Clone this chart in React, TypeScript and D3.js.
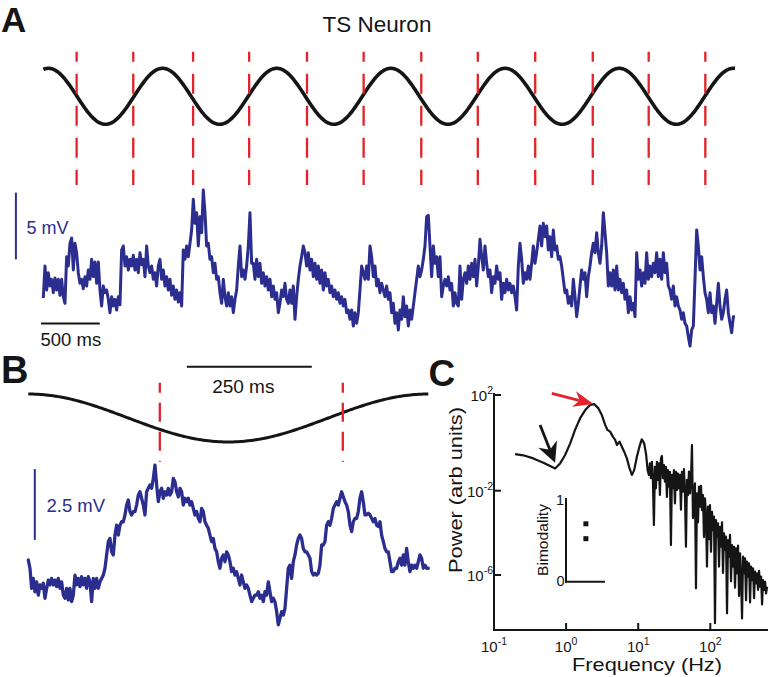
import React from 'react';
import * as d3 from 'd3';

const FONT = '"Liberation Sans", Arial, Helvetica, sans-serif';
const RED = '#e3222b';
const BLUE = '#2b2e8e';
const BLACK = '#151515';

// ---------------- Panel A : membrane potential trace (mV, relative) ----------------
const SAMPLE_MS_A = 14.6;
const traceA_mV = [
  3.9, 6.3, 4.5, 5.8, 4.8, 5.3, 4.3, 5.4, 4.5, 5.3, 4.1, 5.3, 4.0, 3.5,
  7.0, 6.3, 8.0, 8.4, 6.0, 8.0, 7.3, 5.8, 5.0, 5.3, 4.6, 5.5, 4.8, 6.0, 5.3, 6.8, 5.5, 6.6, 5.0, 6.6,
  4.5, 3.3, 4.8, 4.3, 4.5, 3.8, 2.8, 4.0, 3.3, 3.8, 3.0, 4.0, 3.4, 7.5, 7.8, 6.3, 7.0, 6.0, 6.8, 6.3,
  7.1, 6.0, 6.8, 5.8, 7.3, 6.4, 6.8, 5.5, 7.8, 6.3, 5.8, 6.3, 5.3, 5.8, 4.8, 6.3, 6.8, 5.3, 6.0, 4.8,
  5.5, 4.5, 5.3, 4.1, 4.8, 3.8, 4.5, 3.6, 4.3, 3.3, 7.5, 6.8, 7.8, 7.0, 8.0, 9.0, 11.3, 9.5, 10.3, 7.8,
  10.0, 8.8, 12.0, 10.3, 7.8, 8.0, 6.8, 7.0, 5.8, 6.5, 5.3, 5.5, 4.3, 3.5, 5.3, 4.0, 3.3, 4.3, 3.3, 4.0,
  2.8, 3.8, 4.5, 6.3, 7.8, 5.5, 6.0, 5.3, 6.3, 7.8, 10.3, 6.5, 6.5, 5.3, 6.8, 5.5, 6.5, 5.0, 5.8, 4.8,
  5.5, 4.5, 5.3, 4.0, 4.8, 3.8, 4.3, 2.8, 3.5, 4.5, 4.0, 5.0, 3.8, 3.5, 4.5, 3.5, 4.8, 2.3, 4.0, 5.3,
  6.3, 7.0, 7.8, 7.3, 6.3, 7.3, 6.0, 6.8, 5.5, 6.5, 5.3, 6.3, 5.0, 6.0, 4.5, 5.8, 4.8, 5.3, 4.3, 4.8,
  4.0, 4.5, 3.8, 4.3, 3.5, 4.0, 3.3, 3.8, 2.8, 3.0, 2.3, 3.0, 1.8, 2.8, 2.0, 2.8, 4.5, 6.3, 5.8, 5.3,
  6.3, 5.3, 7.8, 7.0, 5.5, 6.3, 4.8, 5.3, 4.3, 5.0, 4.5, 4.0, 4.8, 3.8, 4.3,
  2.8, 3.5, 2.0, 2.8, 1.5, 3.0, 2.3, 4.0, 2.5, 3.3, 1.8, 3.0, 2.3, 3.3,
  4.3, 5.3, 6.3, 5.5, 6.0, 6.8, 7.8, 10.0, 10.1, 7.8, 5.5, 7.8, 6.5, 7.0, 5.5, 7.0, 4.0, 4.8, 5.3, 4.8,
  5.5, 4.5, 5.0, 3.3, 4.3, 3.5, 3.3, 6.3, 3.8, 5.3, 5.8, 5.0, 6.3, 5.3, 6.5, 5.5, 6.8, 4.8, 6.3, 8.3,
  7.0, 6.0, 7.8, 6.5, 5.5, 6.0, 4.3, 5.5, 5.0, 6.3, 5.3, 5.8, 3.8, 5.0, 4.3, 5.3, 4.5, 5.0, 4.3, 4.8,
  4.0, 3.0, 6.3, 8.0, 6.8, 5.0, 5.8, 5.3, 6.3, 5.3, 6.5, 7.8, 6.5, 7.3, 8.3, 9.3, 7.8, 9.5, 8.5, 9.3,
  7.5, 8.5, 7.0, 9.0, 7.5, 7.8, 6.8, 7.0, 6.3, 5.3, 4.3, 4.5, 3.5, 4.0, 3.3, 5.3, 4.0, 2.5, 3.5, 4.8,
  6.0, 5.3, 5.8, 4.0, 5.5, 6.3, 7.3, 8.0, 7.3, 8.8, 7.3, 6.5, 7.8, 10.3, 8.8, 7.3, 4.8, 5.8, 4.8, 6.0,
  4.5, 6.3, 4.5, 5.3, 4.3, 5.0, 3.8, 4.5, 2.8, 4.0, 3.0, 3.5, 2.5, 7.3, 5.3, 6.0, 4.8, 5.8, 5.0, 7.3,
  5.3, 6.3, 5.5, 6.5, 5.8, 7.3, 5.5, 6.8, 5.3, 7.3, 5.8, 6.5, 4.8, 4.5, 3.8, 4.8, 3.3, 4.0, 3.3, 3.0,
  2.3, 2.8, 2.0, 1.8, 1.0, 0.3, 1.5, 1.8, 5.3, 9.0, 7.8, 6.0, 7.0, 5.5, 4.3, 3.8, 2.8, 4.3, 2.8, 3.3,
  2.0, 3.5, 5.0, 3.3, 2.3, 2.8, 3.8, 4.5, 2.8, 2.0, 1.3, 2.5, 2.5,
];
const redLineTimesA_ms = [292, 788, 1312, 1803, 2310, 2806, 3311, 3806, 4309, 4813, 5303, 5799];
const STIM_PERIOD_A_MS = 1000;
const STIM_PEAK_A_MS = 45;

// ---------------- Panel B : cycle-aligned trace (mV, relative) ----------------
const SAMPLE_MS_B = 10 / 3;
const traceB_mV = [
  2.53, 2.24, 1.53, 1.88, 1.41, 1.76, 1.29, 1.65, 1.53, 1.71, 1.18, 1.53, 1.82, 1.65, 1.88, 1.65, 1.82, 1.59, 1.88, 1.53,
  1.76, 1.29, 1.18, 1.53, 1.12, 1.53, 1.06, 1.29, 2.00, 1.65, 1.88, 1.59, 1.94, 1.65, 1.88, 1.53, 1.94, 1.76, 1.06, 1.88,
  1.53, 1.88, 1.53, 1.76, 1.88, 2.00, 2.24, 2.71, 3.18, 3.29, 2.82, 2.71, 3.41, 3.76, 3.41, 3.76, 3.88, 3.88, 4.12, 4.47,
  4.65, 4.24, 4.12, 4.24, 4.24, 4.47, 4.82, 4.94, 4.71, 4.47, 4.12, 4.94, 5.06, 5.18, 5.06, 5.41, 5.88, 5.18, 4.59, 4.94,
  5.06, 4.71, 4.94, 4.82, 5.06, 4.82, 4.94, 5.41, 5.29, 4.94, 4.76, 5.06, 4.94, 4.47, 4.71, 4.59, 4.71, 4.47, 4.59, 4.35,
  4.12, 4.24, 4.00, 3.88, 4.35, 4.24, 3.88, 3.76, 3.65, 3.41, 3.18, 3.29, 2.94, 2.82, 2.47, 2.24, 2.59, 2.71, 2.47, 2.82,
  2.71, 2.47, 2.12, 2.24, 2.00, 2.12, 1.88, 1.65, 2.00, 1.76, 1.53, 1.65, 1.53, 1.29, 1.06, 1.18, 1.29, 1.29, 1.41, 1.18,
  1.29, 1.06, 1.41, 1.29, 1.76, 1.41, 1.06, 1.18, 1.06, 0.71, 0.24, 0.47, 0.71, 0.59, 0.82, 1.53, 2.24, 2.35, 1.88, 2.47,
  2.71, 3.06, 3.29, 3.41, 3.29, 2.94, 2.82, 2.82, 2.71, 2.59, 2.12, 2.00, 2.06, 2.00, 2.06, 2.35, 3.06, 3.06, 3.18, 3.76,
  3.88, 3.76, 4.00, 4.35, 4.47, 4.59, 4.47, 4.71, 4.94, 4.76, 4.59, 4.47, 4.24, 3.76, 3.53, 3.88, 4.00, 4.00, 4.24, 4.71,
  4.94, 4.59, 4.12, 4.12, 4.18, 4.12, 4.00, 3.88, 4.00, 3.76, 3.71, 3.88, 3.41, 3.18, 2.94, 2.82, 2.82, 2.47, 2.12, 2.12,
  2.24, 2.24, 2.47, 2.59, 2.35, 2.71, 2.35, 2.94, 2.47, 2.12, 2.35, 2.24, 2.35, 2.24, 2.47, 2.71, 2.59, 2.24, 2.35, 2.24, 2.24,
];
const redLineTimesB_ms = [263, 629];
const STIM_PERIOD_B_MS = 800;
const STIM_PEAK_B_MS = 0;

// ---------------- Panel C : power spectrum [frequency Hz, log10 power] ----------------
const spectrum: [number, number][] = [
  [0.196, -0.47], [0.255, -0.52], [0.351, -0.65], [0.484, -0.83], [0.6, -0.97], [0.703, -1.07],
  [0.826, -0.86], [0.969, -0.51], [1.14, -0.02], [1.33, 0.54], [1.56, 1.02], [1.84, 1.37],
  [2.15, 1.58], [2.45, 1.62], [2.81, 1.44], [3.13, 1.16], [3.48, 0.75], [3.75, 0.54],
  [4.08, 0.47], [4.45, 0.26], [4.79, 0.12], [5.06, -0.09], [5.51, 0.05], [5.93, -0.16],
  [6.39, -0.37], [6.96, -0.65], [7.59, -1.07], [8.17, -1.34], [8.8, -1.14], [9.58, -0.58],
  [10.4, -0.16], [11.2, 0.15], [12.1, -0.02], [12.9, -0.51], [13.5, -1.14],
  [14.07, -1.34], [14.53, -0.86], [15.0, -1.48], [15.49, -0.79], [15.99, -1.55], [16.51, -3.63],
  [17.05, -1.0], [17.6, -1.9], [18.17, -0.79], [18.76, -1.55], [19.37, -0.86], [20.0, -2.2],
  [20.65, -0.65], [21.32, -0.55], [22.01, -1.48], [22.73, -0.93], [23.47, -1.62], [24.23, -1.0],
  [25.02, -2.3], [25.83, -1.14], [26.67, -1.83], [27.54, -1.21], [28.43, -4.58], [29.36, -1.34],
  [30.31, -1.9], [31.3, -1.14], [32.31, -2.6], [33.36, -1.21], [34.45, -1.97], [35.57, -1.28],
  [36.72, -1.9], [37.92, -1.34], [39.15, -2.9], [40.42, -1.21], [41.73, -2.05], [43.09, -1.1],
  [44.49, -2.13], [45.94, -4.66], [47.43, -1.55], [48.97, -2.21], [50.56, -1.2], [52.21, -2.13],
  [53.9, -1.55], [55.66, -0.09], [57.46, -3.3], [59.33, -2.28], [61.26, -1.69], [63.25, -6.63],
  [65.3, -2.13], [67.43, -3.5], [69.62, -1.83], [71.88, -2.76], [74.22, -1.8], [76.63, -2.92],
  [79.12, -2.21], [81.69, -4.2], [84.35, -2.36], [87.09, -3.23], [89.92, -5.6], [92.84, -2.76],
  [95.86, -4.3], [98.97, -2.68], [102.2, -4.9], [105.5, -3.0], [108.9, -3.87], [112.5, -3.23],
  [116.1, -8.29], [119.9, -3.39], [123.8, -4.18], [127.8, -3.55], [132.0, -5.6], [136.3, -3.71],
  [140.7, -4.66], [145.3, -3.5], [150.0, -5.9], [154.9, -4.02], [159.9, -4.81], [165.1, -4.18],
  [170.5, -7.82], [176.0, -4.34], [181.7, -5.13], [187.6, -4.1], [193.7, -6.3], [200.0, -4.58],
  [206.5, -5.6], [213.2, -4.66], [220.2, -6.6], [227.3, -4.74], [234.7, -5.92], [242.3, -4.6],
  [250.2, -7.0], [258.3, -4.97], [266.7, -6.08], [275.4, -8.06], [284.3, -5.13], [293.6, -5.92],
  [303.1, -5.21], [313.0, -7.2], [323.1, -5.37], [333.6, -6.08], [344.5, -5.45], [355.7, -7.3],
  [367.2, -5.6], [379.2, -6.24], [391.5, -5.68], [404.2, -7.1], [417.4, -5.84], [430.9, -6.4],
  [444.9, -5.92], [459.4, -6.71], [474.3, -5.8], [489.7, -6.55], [505.7, -6.08], [522.1, -7.4],
  [539.1, -6.24], [556.6, -6.71], [574.7, -6.32], [593.4, -6.87], [612.7, -6.55],
];
const freqTickExps = [-1, 0, 1, 2];
const powerTickExps = [2, -2, -6];
const bimodality = [0.7, 0.52];
// annotation arrows: [freq Hz, log10 power] of the tip
const peakArrowTip: [number, number] = [2.39, 1.62];
const dipArrowTip: [number, number] = [0.703, -0.83];

// ---------------- scales ----------------
const durA = (traceA_mV.length - 1) * SAMPLE_MS_A;
const xA = d3.scaleLinear().domain([0, durA]).range([43.3, 735]);
const yA = d3.scaleLinear().domain([0, 12]).range([350, 190]);
const sA = d3.scaleLinear().domain([-1, 1]).range([124.3, 68.3]);

const durB = (traceB_mV.length - 1) * SAMPLE_MS_B;
const xB = d3.scaleLinear().domain([0, durB]).range([28.3, 428.3]);
const yB = d3.scaleLinear().domain([0, 6]).range([631.7, 461.7]);
const sB = d3.scaleLinear().domain([-1, 1]).range([442, 394]);

const xC = d3.scaleLog().domain([0.1, Math.pow(10, 2.8)]).range([494, 768]);
const yC = d3.scaleLinear().domain([2, -2, -6]).range([395, 490.7, 575]);
const insetX = d3.scaleLinear().domain([0, 1]).range([566, 605]);
const insetY = d3.scaleLinear().domain([0, 1]).range([581.7, 499]);

function stim(dur: number, period: number, peak: number) {
  const ts = d3.range(0, dur, 5).concat([dur]);
  return ts.map((t) => [t, Math.cos((2 * Math.PI * (t - peak)) / period)] as [number, number]);
}

const lineA = d3.line<number>().x((_, i) => xA(i * SAMPLE_MS_A)).y((v) => yA(v));
const lineB = d3.line<number>().x((_, i) => xB(i * SAMPLE_MS_B)).y((v) => yB(v));
const sineLineA = d3.line<[number, number]>().x((d) => xA(d[0])).y((d) => sA(d[1])).curve(d3.curveBasis);
const sineLineB = d3.line<[number, number]>().x((d) => xB(d[0])).y((d) => sB(d[1])).curve(d3.curveBasis);
const specLine = d3.line<[number, number]>().x((d) => xC(d[0])).y((d) => yC(d[1]));

function Arrow({ tip, dx, dy, color, headLen, half, width }: { tip: [number, number]; dx: number; dy: number; color: string; headLen: number; half: number; width: number }) {
  const tx = xC(tip[0]);
  const ty = yC(tip[1]);
  const x0 = tx + dx;
  const y0 = ty + dy;
  const len = Math.hypot(tx - x0, ty - y0);
  const ux = (tx - x0) / len;
  const uy = (ty - y0) / len;
  const nx = -uy;
  const ny = ux;
  const bx = tx - ux * headLen;
  const by = ty - uy * headLen;
  const mx = tx - ux * headLen * 0.7;
  const my = ty - uy * headLen * 0.7;
  const pts = [
    [tx, ty],
    [bx + nx * half, by + ny * half],
    [mx, my],
    [bx - nx * half, by - ny * half],
  ];
  return (
    <g>
      <line x1={x0} y1={y0} x2={mx} y2={my} stroke={color} strokeWidth={width} />
      <polygon points={pts.map((p) => p.join(',')).join(' ')} fill={color} />
    </g>
  );
}

function Pow10({ x, y, exp, anchor, size = 15 }: { x: number; y: number; exp: number; anchor: string; size?: number }) {
  return (
    <text x={x} y={y} textAnchor={anchor as any} fontSize={size} fill={BLACK}>
      10
      <tspan dy={-7} fontSize={size * 0.7}>{exp}</tspan>
    </text>
  );
}

export default function App() {
  const sineA = stim(durA, STIM_PERIOD_A_MS, STIM_PEAK_A_MS);
  const sineB = stim(durB, STIM_PERIOD_B_MS, STIM_PEAK_B_MS);
  const cAxisTop = yC(2.08);
  const cAxisBottom = yC(-8.61);
  const cLeft = xC(0.1);
  const cRight = xC(Math.pow(10, 2.8));
  return (
    <svg
      width={769}
      height={677}
      style={{ position: 'absolute', left: 0, top: 0, display: 'block', background: '#fff' }}
      fontFamily={FONT}
    >
      <rect width={769} height={677} fill="#fff" />

      {/* ---------- Panel A ---------- */}
      <text x={1} y={31.5} fontSize={35} fontWeight="bold" fill={BLACK}>A</text>
      <text x={377} y={31.5} fontSize={22.5} textAnchor="middle" fill={BLACK}>TS Neuron</text>
      <path d={sineLineA(sineA) || ''} fill="none" stroke={BLACK} strokeWidth={3.6} />
      {redLineTimesA_ms.map((t, i) => (
        <line key={i} x1={xA(t)} x2={xA(t)} y1={51.7} y2={185} stroke={RED} strokeWidth={2.3}
          strokeDasharray="20 12" strokeDashoffset={10} />
      ))}
      <path d={lineA(traceA_mV) || ''} fill="none" stroke={BLUE} strokeWidth={3} strokeLinejoin="round" />
      <line x1={xA(-240)} x2={xA(-240)} y1={yA(6.8)} y2={yA(11.8)} stroke={BLUE} strokeWidth={2} />
      <text x={26.5} y={233.5} fontSize={18} fill={BLUE}>5 mV</text>
      <line x1={xA(-20)} x2={xA(495)} y1={323.5} y2={323.5} stroke={BLACK} strokeWidth={2} />
      <text x={40.5} y={345.5} fontSize={18.5} fill={BLACK}>500 ms</text>

      {/* ---------- Panel B ---------- */}
      <text x={1} y={382.5} fontSize={38} fontWeight="bold" fill={BLACK}>B</text>
      <line x1={xB(317)} x2={xB(567)} y1={366.7} y2={366.7} stroke={BLACK} strokeWidth={2} />
      <text x={243.3} y={393} fontSize={19} textAnchor="middle" fill={BLACK}>250 ms</text>
      <path d={sineLineB(sineB) || ''} fill="none" stroke={BLACK} strokeWidth={3} />
      {redLineTimesB_ms.map((t, i) => (
        <line key={i} x1={xB(t)} x2={xB(t)} y1={382.7} y2={461.7} stroke={RED} strokeWidth={2.3}
          strokeDasharray="19 10" strokeDashoffset={9} />
      ))}
      <path d={lineB(traceB_mV) || ''} fill="none" stroke={BLUE} strokeWidth={3.3} strokeLinejoin="round" strokeLinecap="round" />
      <line x1={xB(13)} x2={xB(13)} y1={yB(3.24)} y2={yB(5.74)} stroke={BLUE} strokeWidth={2} />
      <text x={46.5} y={512} fontSize={18.5} fill={BLUE}>2.5 mV</text>

      {/* ---------- Panel C ---------- */}
      <text x={428.5} y={386} fontSize={37} fontWeight="bold" fill={BLACK}>C</text>
      <line x1={cLeft} x2={cLeft} y1={cAxisTop} y2={cAxisBottom + 1} stroke={BLACK} strokeWidth={2} />
      <line x1={cLeft - 1} x2={cRight} y1={cAxisBottom} y2={cAxisBottom} stroke={BLACK} strokeWidth={2} />
      {powerTickExps.map((e) => (
        <g key={e}>
          <line x1={cLeft} x2={cLeft + 7} y1={yC(e)} y2={yC(e)} stroke={BLACK} strokeWidth={2} />
          <Pow10 x={493} y={yC(e) + 6} exp={e} anchor="end" />
        </g>
      ))}
      {freqTickExps.map((e) => (
        <g key={e}>
          {e > -1 && (
            <line x1={xC(Math.pow(10, e))} x2={xC(Math.pow(10, e))} y1={cAxisBottom} y2={cAxisBottom - 7} stroke={BLACK} strokeWidth={2} />
          )}
          <Pow10 x={xC(Math.pow(10, e))} y={652} exp={e} anchor="middle" />
        </g>
      ))}
      <text x={647} y={671} fontSize={18} textAnchor="middle" textLength={150} lengthAdjust="spacingAndGlyphs" fill={BLACK}>
        Frequency (Hz)
      </text>
      <text transform="translate(462,490) rotate(-90)" fontSize={18} textAnchor="middle" textLength={166} lengthAdjust="spacingAndGlyphs" fill={BLACK}>
        Power (arb units)
      </text>

      <path d={specLine(spectrum) || ''} fill="none" stroke={BLACK} strokeWidth={2.2} strokeLinejoin="round" />

      <Arrow tip={peakArrowTip} dx={-41.6} dy={-10.7} color={RED} headLen={20} half={8} width={2.8} />
      <Arrow tip={dipArrowTip} dx={-15} dy={-37.7} color={BLACK} headLen={20} half={10} width={2.8} />

      {/* inset */}
      <line x1={insetX(0)} x2={insetX(0)} y1={insetY(1) - 1} y2={insetY(0) + 1} stroke={BLACK} strokeWidth={2} />
      <line x1={insetX(0)} x2={insetX(1)} y1={insetY(0)} y2={insetY(0)} stroke={BLACK} strokeWidth={2} />
      <text x={insetX(0) - 2} y={505} fontSize={14.5} textAnchor="end" fill={BLACK}>1</text>
      <text x={insetX(0) - 1.5} y={586} fontSize={14.5} textAnchor="end" fill={BLACK}>0</text>
      <text transform={`translate(548,540) rotate(-90)`} fontSize={14} textAnchor="middle" textLength={72} lengthAdjust="spacingAndGlyphs" fill={BLACK}>
        Bimodality
      </text>
      {bimodality.map((b, i) => (
        <rect key={i} x={insetX(0.51) - 2.5} y={insetY(b) - 2.5} width={5} height={5} fill={BLACK} />
      ))}
    </svg>
  );
}
